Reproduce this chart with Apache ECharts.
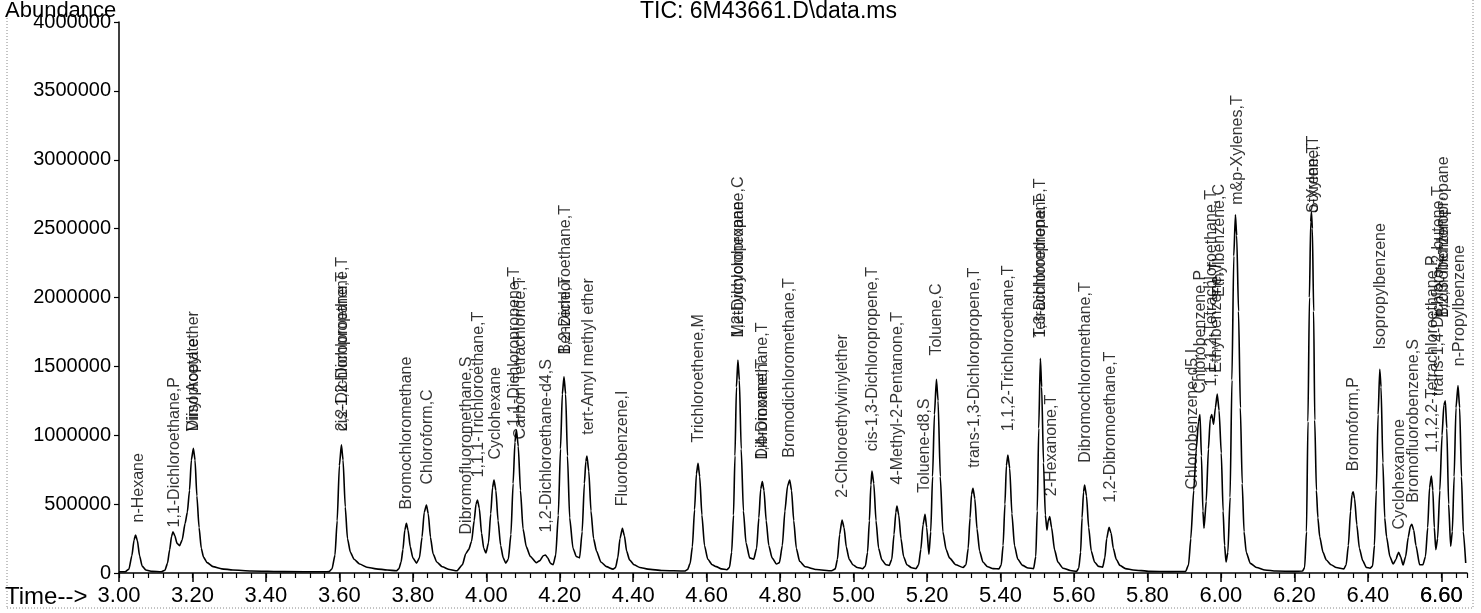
<!DOCTYPE html>
<html><head><meta charset="utf-8">
<script src="https://cdn.jsdelivr.net/npm/echarts@6/dist/echarts.min.js"></script>
<style>html,body{margin:0;padding:0;background:#fff}#c{width:1481px;height:613px}</style>
</head><body><div id="c"></div>
<script>
// Total ion chromatogram trace: [time (min), abundance]
const tracePoints = [
[3.000,9000],[3.017,9000],[3.027,28000],[3.035,125000],[3.041,240000],[3.045,276000],[3.050,235000],[3.056,125000],[3.063,50000],[3.073,22000],[3.090,12000],[3.115,9000],
[3.125,20000],[3.132,70000],[3.138,170000],[3.143,265000],[3.147,300000],[3.152,270000],[3.158,215000],[3.165,198000],[3.172,240000],[3.180,360000],[3.186,440000],[3.192,600000],[3.197,820000],[3.2025,905000],[3.207,820000],[3.212,560000],[3.218,330000],[3.224,180000],[3.230,115000],[3.240,75000],[3.256,46000],[3.280,30000],[3.310,22000],[3.360,15000],[3.450,10000],[3.560,9000],
[3.572,10000],[3.580,30000],[3.588,130000],[3.594,380000],[3.600,780000],[3.6055,930000],[3.610,820000],[3.616,480000],[3.622,250000],[3.630,150000],[3.640,100000],[3.655,65000],[3.675,42000],[3.700,30000],[3.730,22000],[3.755,16000],
[3.762,30000],[3.768,80000],[3.773,170000],[3.778,310000],[3.7825,361000],[3.787,310000],[3.793,190000],[3.800,110000],[3.810,72000],[3.818,110000],[3.825,260000],[3.831,440000],[3.837,494000],[3.842,430000],[3.848,260000],[3.855,140000],[3.865,80000],[3.880,45000],[3.900,25000],[3.920,16000],
[3.935,60000],[3.944,140000],[3.952,170000],[3.960,230000],[3.967,380000],[3.972,500000],[3.976,530000],[3.981,470000],[3.987,290000],[3.993,180000],[3.999,145000],[4.006,220000],[4.012,430000],[4.017,620000],[4.021,675000],[4.026,600000],[4.032,380000],[4.039,200000],[4.046,110000],[4.053,72000],[4.060,100000],[4.067,280000],[4.073,650000],[4.078,950000],[4.082,1040000],[4.087,920000],[4.093,600000],[4.100,320000],[4.109,190000],[4.120,120000],[4.136,75000],[4.146,90000],[4.155,125000],[4.161,131000],[4.167,110000],[4.175,70000],[4.182,60000],[4.189,130000],[4.196,420000],[4.202,900000],[4.207,1300000],[4.2115,1425000],[4.216,1300000],[4.221,850000],[4.227,400000],[4.236,180000],[4.245,120000],[4.254,110000],[4.261,300000],[4.267,650000],[4.271,810000],[4.274,849000],[4.279,740000],[4.285,450000],[4.292,250000],[4.300,160000],[4.312,80000],[4.327,46000],[4.345,28000],[4.352,40000],[4.358,110000],[4.364,250000],[4.3705,324000],[4.376,270000],[4.382,160000],[4.390,95000],[4.402,60000],[4.418,40000],[4.440,28000],[4.480,18000],[4.540,14000],
[4.548,25000],[4.555,70000],[4.561,190000],[4.567,460000],[4.572,720000],[4.5765,796000],[4.581,700000],[4.587,420000],[4.594,200000],[4.603,100000],[4.615,60000],[4.626,46000],[4.640,30000],[4.655,24000],
[4.662,40000],[4.668,150000],[4.673,420000],[4.677,850000],[4.681,1350000],[4.685,1546000],[4.689,1400000],[4.694,900000],[4.700,450000],[4.707,220000],[4.717,110000],[4.728,100000],[4.736,180000],[4.742,400000],[4.747,610000],[4.7515,663000],[4.756,600000],[4.762,380000],[4.769,200000],[4.778,110000],[4.790,65000],[4.798,75000],[4.806,200000],[4.813,450000],[4.820,630000],[4.826,675000],[4.831,600000],[4.837,380000],[4.844,180000],[4.853,85000],[4.868,45000],[4.899,25000],[4.940,16000],[4.950,30000],[4.956,100000],[4.962,280000],[4.9685,385000],[4.974,330000],[4.980,190000],[4.988,100000],[4.998,60000],[5.010,40000],[5.025,32000],
[5.032,50000],[5.038,150000],[5.043,380000],[5.047,640000],[5.050,740000],[5.055,650000],[5.061,380000],[5.068,180000],[5.077,95000],[5.088,60000],[5.097,55000],[5.104,100000],[5.110,280000],[5.115,440000],[5.118,486000],[5.123,420000],[5.129,250000],[5.136,120000],[5.145,60000],[5.158,38000],[5.170,32000],[5.177,60000],[5.183,170000],[5.189,350000],[5.1945,426000],[5.199,330000],[5.205,135000],[5.210,300000],[5.215,700000],[5.220,1150000],[5.2255,1406000],[5.230,1250000],[5.236,700000],[5.243,300000],[5.252,170000],[5.261,110000],[5.278,60000],[5.298,40000],
[5.306,60000],[5.312,180000],[5.317,400000],[5.321,570000],[5.325,615000],[5.330,540000],[5.336,320000],[5.343,160000],[5.352,80000],[5.365,45000],[5.380,32000],[5.396,30000],[5.402,60000],[5.407,200000],[5.412,500000],[5.416,780000],[5.420,857000],[5.425,760000],[5.431,430000],[5.438,200000],[5.447,100000],[5.460,55000],[5.475,36000],[5.490,32000],[5.496,120000],[5.500,450000],[5.504,1050000],[5.5085,1559000],[5.512,1350000],[5.517,800000],[5.522,420000],[5.5265,312000],[5.530,380000],[5.534,409000],[5.539,330000],[5.547,170000],[5.556,80000],[5.570,35000],[5.590,18000],[5.607,12000],
[5.613,35000],[5.618,150000],[5.622,400000],[5.626,590000],[5.629,639000],[5.634,560000],[5.640,330000],[5.647,160000],[5.656,80000],[5.667,48000],[5.678,42000],[5.684,110000],[5.689,250000],[5.6955,332000],[5.701,290000],[5.707,180000],[5.715,100000],[5.725,55000],[5.740,32000],[5.761,22000],[5.806,12000],[5.860,10000],[5.904,12000],
[5.912,60000],[5.918,250000],[5.926,600000],[5.933,900000],[5.939,1100000],[5.943,1150000],[5.947,850000],[5.951,450000],[5.954,325000],[5.960,520000],[5.966,900000],[5.971,1120000],[5.975,1150000],[5.980,1080000],[5.985,1200000],[5.990,1300000],[5.995,1180000],[6.001,870000],[6.006,450000],[6.010,200000],[6.014,80000],[6.019,150000],[6.025,550000],[6.030,1400000],[6.035,2300000],[6.0395,2600000],[6.043,2450000],[6.048,1900000],[6.053,1200000],[6.058,650000],[6.063,300000],[6.069,150000],[6.080,70000],[6.097,40000],[6.120,22000],[6.150,14000],[6.200,12000],[6.222,14000],
[6.228,40000],[6.233,300000],[6.237,1100000],[6.241,2000000],[6.2445,2550000],[6.2465,2620000],[6.249,2500000],[6.2525,1900000],[6.2555,1110000],[6.260,600000],[6.264,400000],[6.269,263000],[6.278,150000],[6.287,94000],[6.300,60000],[6.314,40000],[6.335,30000],
[6.341,60000],[6.347,200000],[6.353,450000],[6.357,570000],[6.360,590000],[6.364,540000],[6.370,350000],[6.377,180000],[6.386,90000],[6.396,40000],[6.406,35000],[6.413,50000],[6.418,200000],[6.423,600000],[6.428,1150000],[6.4325,1479000],[6.436,1350000],[6.441,800000],[6.446,400000],[6.451,263000],[6.460,120000],[6.469,65000],[6.477,100000],[6.481,135000],[6.484,150000],[6.489,120000],[6.496,58000],[6.503,120000],[6.510,260000],[6.516,340000],[6.520,353000],[6.525,310000],[6.531,200000],[6.541,60000],[6.550,60000],[6.557,120000],[6.563,330000],[6.568,620000],[6.573,704000],[6.577,600000],[6.581,330000],[6.585,170000],[6.590,250000],[6.596,600000],[6.602,1000000],[6.607,1220000],[6.611,1250000],[6.615,1050000],[6.620,500000],[6.6255,195000],[6.630,300000],[6.635,700000],[6.640,1200000],[6.6455,1360000],[6.650,1200000],[6.655,700000],[6.660,300000],[6.6665,73000]
];

// Peak labels: compound name, retention time, abundance where the label starts
const peakNames = [
'n-Hexane','1,1-Dichloroethane,P','Diisopropyl ether','Vinyl Acetate',
'2,2-Dichloropropane,T','cis-1,2-Dichloroethene,T',
'Bromochloromethane','Chloroform,C','Dibromofluoromethane,S','1,1,1-Trichloroethane,T','Cyclohexane',
'1,1-Dichloropropene,T','Carbon Tetrachloride,T','1,2-Dichloroethane-d4,S','Benzene,T','1,2-Dichloroethane,T',
'tert-Amyl methyl ether','Fluorobenzene,I','Trichloroethene,M','Methylcyclohexane','1,2-Dichloropropane,C',
'1,4-Dioxane,T','Dibromomethane,T','Bromodichloromethane,T','2-Chloroethylvinylether','cis-1,3-Dichloropropene,T',
'4-Methyl-2-Pentanone,T','Toluene-d8,S','Toluene,C','trans-1,3-Dichloropropene,T','1,1,2-Trichloroethane,T',
'Tetrachloroethene,T','1,3-Dichloropropane,T','2-Hexanone,T','Dibromochloromethane,T','1,2-Dibromoethane,T',
'Chlorobenzene-d5,I','Chlorobenzene,P','1,1,1,2-Tetrachloroethane,T','Ethylbenzene,T','Ethylbenzene,C','m&p-Xylenes,T',
'o-Xylene,T','Styrene,T','Bromoform,P','Isopropylbenzene','Cyclohexanone','Bromofluorobenzene,S',
'1,1,2,2-Tetrachloroethane,P','trans-1,4-Dichloro-2-butene,T','1,2,3-Trichloropropane','Bromobenzene','n-Propylbenzene'
];
const peakTimes = [
3.052,3.152,3.203,3.203,
3.608,3.608,
3.784,3.841,3.946,3.979,4.025,
4.077,4.093,4.164,4.215,4.215,
4.279,4.3705,4.579,4.688,4.688,
4.753,4.753,4.826,4.970,5.053,
5.121,5.194,5.227,5.330,5.422,
5.5085,5.5085,5.540,5.632,5.699,
5.924,5.944,5.974,5.988,5.996,6.045,
6.251,6.251,6.362,6.435,6.487,6.525,
6.576,6.594,6.607,6.607,6.650
];
const peakLabelAt = [
363000,327000,1026000,1026000,
1026000,1026000,
457000,639000,276000,690000,820000,
1062000,966000,290000,1583000,1583000,
1000000,481000,944000,1706000,1706000,
820000,820000,833000,542000,881000,
639000,579000,1575000,760000,1026000,
1704000,1704000,554000,796000,506000,
603000,1300000,1350000,1450000,2000000,2670000,
2610000,2610000,735000,1619000,312000,506000,
869000,1280000,1850000,1850000,1498000
];

const timeTicks = [3.0,3.2,3.4,3.6,3.8,4.0,4.2,4.4,4.6,4.8,5.0,5.2,5.4,5.6,5.8,6.0,6.2,6.4,6.6];
const FONT = "'Liberation Sans', Arial, Helvetica, sans-serif";

const chart = echarts.init(document.getElementById('c'), null, {renderer: 'canvas'});
const labelData = peakNames.map((n, i) => [peakTimes[i], peakLabelAt[i], n]);

const T_MIN = 3, T_MAX = 6.67;
const GRID_L = 119, GRID_R = 14, GRID_T = 22, GRID_B = 40;

chart.setOption({
  animation: false,
  backgroundColor: '#fff',
  title: [{
    text: 'TIC: 6M43661.D\\data.ms', left: 640, top: 0, padding: 0,
    textStyle: {fontSize: 23, fontWeight: 'normal', color: '#000', fontFamily: FONT}
  }],
  grid: {left: GRID_L, right: GRID_R, top: GRID_T, bottom: GRID_B, containLabel: false},
  xAxis: [{
    type: 'value', position: 'bottom', min: T_MIN, max: T_MAX, interval: 0.2,
    axisLine: {show: true, onZero: false, lineStyle: {color: '#000', width: 1.5}},
    axisTick: {show: true, length: 9, customValues: timeTicks, lineStyle: {color: '#000', width: 1.5}},
    axisLabel: {customValues: timeTicks, formatter: v => v.toFixed(2),
      fontSize: 22, color: '#000', margin: 12, fontFamily: FONT},
    splitLine: {show: false}
  }, {
    type: 'value', position: 'bottom', min: T_MIN, max: T_MAX, interval: 0.04,
    axisLine: {show: false, onZero: false},
    axisTick: {show: true, length: 5, lineStyle: {color: '#000', width: 1.2}},
    axisLabel: {show: false},
    splitLine: {show: false}
  }],
  yAxis: {
    type: 'value', min: 0, max: 4000000, interval: 500000,
    axisLine: {show: true, lineStyle: {color: '#000', width: 1.5}},
    axisTick: {show: true, length: 5, lineStyle: {color: '#000', width: 1.2}},
    axisLabel: {fontSize: 20, color: '#000', margin: 8, fontFamily: FONT, formatter: v => String(v)},
    splitLine: {show: false}
  },
  series: [{
    type: 'line', xAxisIndex: 0, data: tracePoints, symbol: 'none', showSymbol: false,
    smooth: 0.2, smoothMonotone: 'x',
    lineStyle: {color: '#000', width: 1.6}, silent: true, z: 2
  }, {
    type: 'scatter', xAxisIndex: 0, data: labelData, symbolSize: 1,
    itemStyle: {color: 'rgba(0,0,0,0)'}, silent: true, z: 3,
    label: {
      show: true, formatter: p => p.data[2], position: 'top', distance: 0,
      rotate: 90, align: 'left', verticalAlign: 'middle',
      fontSize: 16, color: '#000', fontFamily: FONT
    }
  }],
  graphic: [
    {id: 'g1', type: 'text', left: 5, top: 0, style: {text: 'Abundance', fontSize: 22, fill: '#000', fontFamily: FONT}},
    {id: 'g2', type: 'text', left: 5, top: 585, style: {text: 'Time-->', fontSize: 24, fill: '#000', fontFamily: FONT}},
    {id: 'g3', type: 'line', shape: {x1: 7, y1: 18, x2: 7, y2: 608}, style: {stroke: '#888', lineWidth: 1, lineDash: [1, 2]}},
    {id: 'g4', type: 'line', shape: {x1: 7, y1: 608, x2: 1473, y2: 608}, style: {stroke: '#888', lineWidth: 1, lineDash: [1, 2]}},
    {id: 'g5', type: 'line', shape: {x1: 1473, y1: 0, x2: 1473, y2: 608}, style: {stroke: '#888', lineWidth: 1, lineDash: [1, 2]}}
  ]
});

// The library suppresses the last tick label next to the axis end; place it at the axis' own pixel position.
const lastMajor = timeTicks[timeTicks.length - 1];
const lastPx = chart.convertToPixel({xAxisIndex: 0}, lastMajor);
chart.setOption({graphic: [{id: 'lastTick', type: 'text', x: lastPx, y: 613 - GRID_B + 12, z: 100,
  style: {text: lastMajor.toFixed(2), align: 'center', verticalAlign: 'top', fontSize: 22, fill: '#000', fontFamily: FONT}}]});
</script>
</body></html>
